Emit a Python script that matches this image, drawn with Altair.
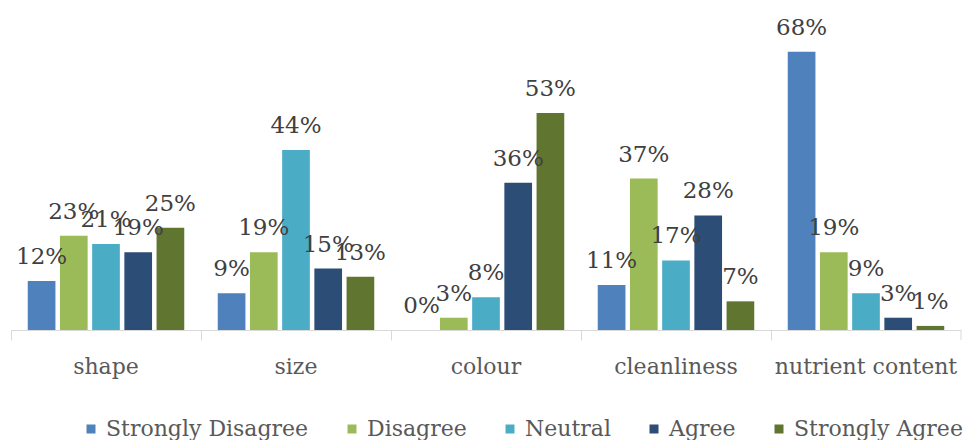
import altair as alt
import pandas as pd

categories = ["shape", "size", "colour", "cleanliness", "nutrient content"]
series = ["Strongly Disagree", "Disagree", "Neutral", "Agree", "Strongly Agree"]
strongly_disagree = [12, 9, 0, 11, 68]
disagree = [23, 19, 3, 37, 19]
neutral = [21, 44, 8, 17, 9]
agree = [19, 15, 36, 28, 3]
strongly_agree = [25, 13, 53, 7, 1]
colors = ["#4F81BD", "#9BBB59", "#4BACC6", "#2C4D75", "#5F7530"]

rows = []
for s, vals in zip(series, [strongly_disagree, disagree, neutral, agree, strongly_agree]):
    for c, v in zip(categories, vals):
        rows.append({"category": c, "series": s, "value": v, "label": f"{v}%"})
df = pd.DataFrame(rows)

W = 950
H = 307
FONT = "DejaVu Serif"

x = alt.X(
    "category:N",
    sort=categories,
    scale=alt.Scale(paddingInner=0, paddingOuter=0),
    axis=alt.Axis(
        title=None, labelAngle=0, bandPosition=0, labelLimit=0,
        labelOverlap=False, labelFlush=False, labelBound=False,
        domainColor="#d9d9d9", tickColor="#d9d9d9", tickSize=10,
        labelFont=FONT, labelFontSize=22, labelColor="#595959", labelPadding=16,
    ),
)
y = alt.Y("value:Q", scale=alt.Scale(domain=[0, 75], nice=False), axis=None)
xo = alt.XOffset("series:N", sort=series, scale=alt.Scale(paddingInner=0.14, paddingOuter=0.52))

bars = alt.Chart(df).mark_bar().encode(
    x=x, y=y, xOffset=xo,
    color=alt.Color(
        "series:N", sort=series,
        scale=alt.Scale(domain=series, range=colors),
        legend=alt.Legend(
            title=None, orient="none", direction="horizontal",
            legendX=69, legendY=395, symbolType="square", symbolSize=81,
            labelFont=FONT, labelFontSize=22, labelColor="#595959", labelLimit=0,
            labelOffset=4, columnPadding=32, padding=0, symbolStrokeWidth=0,
        ),
    ),
)

text = alt.Chart(df).mark_text(
    font=FONT, fontSize=23, color="#404040", baseline="alphabetic", dy=-17
).encode(x=x, y=y, xOffset=xo, text="label:N")

last_tick = alt.Chart(pd.DataFrame({"a": [0]})).mark_rule(color="#d9d9d9").encode(
    x=alt.value(W), y=alt.value(H), y2=alt.value(H + 10)
)

chart = alt.layer(bars, text, last_tick).properties(
    width=W, height=H,
    padding={"left": 2, "top": 8, "right": 0, "bottom": 0},
).configure_view(stroke=None)

chart.save("out.html", embed_options={"renderer": "svg", "actions": False})
